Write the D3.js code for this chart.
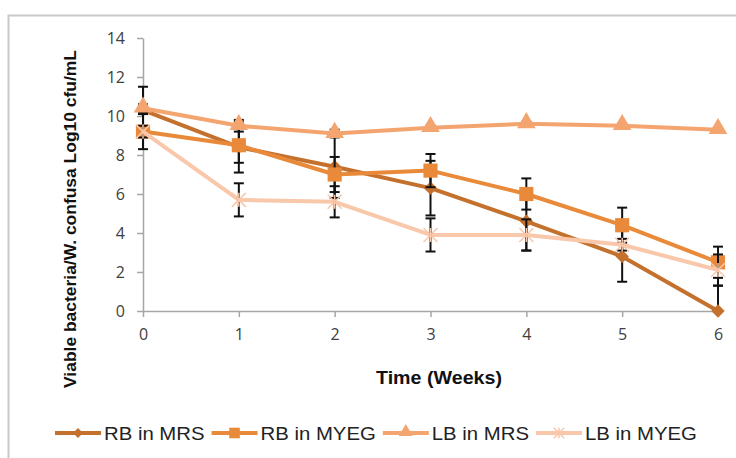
<!DOCTYPE html>
<html>
<head>
<meta charset="utf-8">
<script src="https://cdn.jsdelivr.net/npm/d3@7"></script>
<style>
  body { margin: 0; background: #fff; }
  svg { display: block; }
</style>
</head>
<body>
<div id="chart"></div>
<script>
// weeks on the x axis
const weeks = [0, 1, 2, 3, 4, 5, 6];
const yTicks = [0, 2, 4, 6, 8, 10, 12, 14];

// viable counts (log10 cfu/mL)
const rbMrs = [10.3, 8.4, 7.4, 6.3, 4.6, 2.8, 0.0];
const rbMyeg = [9.2, 8.5, 7.0, 7.2, 6.0, 4.4, 2.5];
const lbMrs = [10.4, 9.5, 9.1, 9.4, 9.6, 9.5, 9.3];
const lbMyeg = [9.2, 5.7, 5.6, 3.9, 3.9, 3.4, 2.1];

// standard deviations (error bars)
const rbMrsErr = [1.2, 1.3, 1.6, 1.4, 1.5, 1.3, 1.3];
const rbMyegErr = [0.9, 0.9, 0.9, 0.85, 0.8, 0.9, 0.8];
const lbMrsErr = [0.2, 0.3, 0.2, 0.1, 0.1, 0.1, 0.1];
const lbMyegErr = [0.3, 0.85, 0.8, 0.85, 0.8, 0.3, 0.8];

const seriesNames = ["RB in MRS", "RB in MYEG", "LB in MRS", "LB in MYEG"];
const seriesColors = ["#c4712d", "#e98a3b", "#f4a46f", "#f9c7aa"];
const seriesMarkers = ["diamond", "square", "triangle", "star"];

const series = seriesNames.map((name, i) => ({
  name,
  color: seriesColors[i],
  marker: seriesMarkers[i],
  values: [rbMrs, rbMyeg, lbMrs, lbMyeg][i],
  errors: [rbMrsErr, rbMyegErr, lbMrsErr, lbMyegErr][i]
}));

const width = 736, height = 458;

const svg = d3.select("#chart").append("svg")
    .attr("width", width)
    .attr("height", height)
    .attr("viewBox", [0, 0, width, height]);

// chart area border (runs off the right and bottom edges)
svg.append("rect")
    .attr("x", 8.5).attr("y", 15.5)
    .attr("width", 800).attr("height", 500)
    .attr("fill", "none")
    .attr("stroke", "#c8c8c8")
    .attr("stroke-width", 2);

const x = d3.scaleLinear().domain([0, 6]).range([143, 718]);
const y = d3.scaleLinear().domain([0, 14]).range([311, 38]);

const tickFont = "'Open Sans', 'Liberation Sans', Arial, sans-serif";

// y axis
const yAxis = svg.append("g")
    .attr("transform", `translate(${x(0)},0)`)
    .call(d3.axisLeft(y).tickValues(yTicks).tickFormat(d3.format("d"))
      .tickSize(6).tickSizeOuter(0).tickPadding(12));

// x axis
const xAxis = svg.append("g")
    .attr("transform", `translate(0,${y(0)})`)
    .call(d3.axisBottom(x).tickValues(weeks).tickFormat(d3.format("d"))
      .tickSize(6).tickSizeOuter(0).tickPadding(12));

[yAxis, xAxis].forEach(g => {
  g.select(".domain").attr("stroke", "#a6a6a6").attr("stroke-width", 1.5);
  g.selectAll(".tick line").attr("stroke", "#a6a6a6").attr("stroke-width", 1.5);
  g.selectAll(".tick text")
      .attr("fill", "#404040")
      .style("font-family", tickFont)
      .style("font-size", "16px");
});

// axis titles
svg.append("text")
    .attr("x", 439).attr("y", 384)
    .attr("text-anchor", "middle")
    .attr("textLength", 126)
    .attr("lengthAdjust", "spacingAndGlyphs")
    .style("font-family", "'Liberation Sans Narrow', 'Arial Narrow', 'Liberation Sans', sans-serif")
    .style("font-weight", "bold")
    .style("font-size", "18px")
    .attr("fill", "#111")
    .text("Time (Weeks)");

svg.append("text")
    .attr("transform", "translate(76,219) rotate(-90)")
    .attr("text-anchor", "middle")
    .attr("textLength", 338)
    .attr("lengthAdjust", "spacingAndGlyphs")
    .style("font-family", "'Liberation Sans Narrow', 'Arial Narrow', 'Liberation Sans', sans-serif")
    .style("font-weight", "bold")
    .style("font-size", "17px")
    .attr("fill", "#111")
    .text("Viable bacteria/W. confusa Log10 cfu/mL");

// marker drawing
function drawMarker(g, type, color, scale) {
  const s = scale || 1;
  if (type === "diamond") {
    g.append("path")
        .attr("d", d3.symbol(d3.symbolSquare, 90 * s * s)())
        .attr("transform", "rotate(45)")
        .attr("fill", color);
  } else if (type === "square") {
    g.append("path")
        .attr("d", d3.symbol(d3.symbolSquare, 200 * s * s)())
        .attr("fill", color);
  } else if (type === "triangle") {
    g.append("path")
        .attr("d", d3.symbol(d3.symbolTriangle, 150 * s * s)())
        .attr("transform", "translate(0,-1)")
        .attr("fill", color);
  } else {
    const r = 7 * s;
    g.append("path")
        .attr("d", `M${-r},${-r}L${r},${r}M${-r},${r}L${r},${-r}M0,${-r}L0,${r}`)
        .attr("stroke", color)
        .attr("stroke-width", 1.5)
        .attr("fill", "none");
  }
}

const line = d3.line()
    .x((d, i) => x(weeks[i]))
    .y(d => y(d));

const plot = svg.append("g");

series.forEach(s => {
  const g = plot.append("g");

  g.append("path")
      .datum(s.values)
      .attr("d", line)
      .attr("fill", "none")
      .attr("stroke", s.color)
      .attr("stroke-width", 4)
      .attr("stroke-linejoin", "round");

  // error bars, clipped at zero like the axis
  const bars = g.append("g")
      .attr("stroke", "#111")
      .attr("stroke-width", 2)
    .selectAll("g")
    .data(s.values.map((v, i) => ({ w: weeks[i], v, e: s.errors[i] })))
    .join("g");

  bars.append("line")
      .attr("x1", d => x(d.w)).attr("x2", d => x(d.w))
      .attr("y1", d => y(d.v + d.e))
      .attr("y2", d => y(Math.max(0, d.v - d.e)));
  bars.append("line")
      .attr("x1", d => x(d.w) - 5).attr("x2", d => x(d.w) + 5)
      .attr("y1", d => y(d.v + d.e)).attr("y2", d => y(d.v + d.e));
  bars.filter(d => d.v - d.e >= 0).append("line")
      .attr("x1", d => x(d.w) - 5).attr("x2", d => x(d.w) + 5)
      .attr("y1", d => y(d.v - d.e)).attr("y2", d => y(d.v - d.e));

  g.selectAll(".mk")
    .data(s.values)
    .join("g")
      .attr("class", "mk")
      .attr("transform", (d, i) => `translate(${x(weeks[i])},${y(d)})`)
      .each(function() { drawMarker(d3.select(this), s.marker, s.color); });
});

// legend
const legend = svg.append("g")
    .attr("transform", "translate(0,433)");
let lx = 55;
series.forEach(s => {
  const item = legend.append("g").attr("transform", `translate(${lx},0)`);
  item.append("line")
      .attr("x1", 0).attr("x2", 46)
      .attr("stroke", s.color)
      .attr("stroke-width", 4);
  const mk = item.append("g").attr("transform", "translate(23,0)");
  drawMarker(mk, s.marker, s.color, 0.75);
  const t = item.append("text")
      .attr("x", 49).attr("dy", "0.36em")
      .style("font-family", "'Liberation Sans', Arial, sans-serif")
      .style("font-size", "19px")
      .attr("fill", "#222")
      .text(s.name);
  const w = t.node().getComputedTextLength() * 1.07;
  t.attr("textLength", w).attr("lengthAdjust", "spacingAndGlyphs");
  lx += 49 + w + 7;
});
</script>
</body>
</html>
